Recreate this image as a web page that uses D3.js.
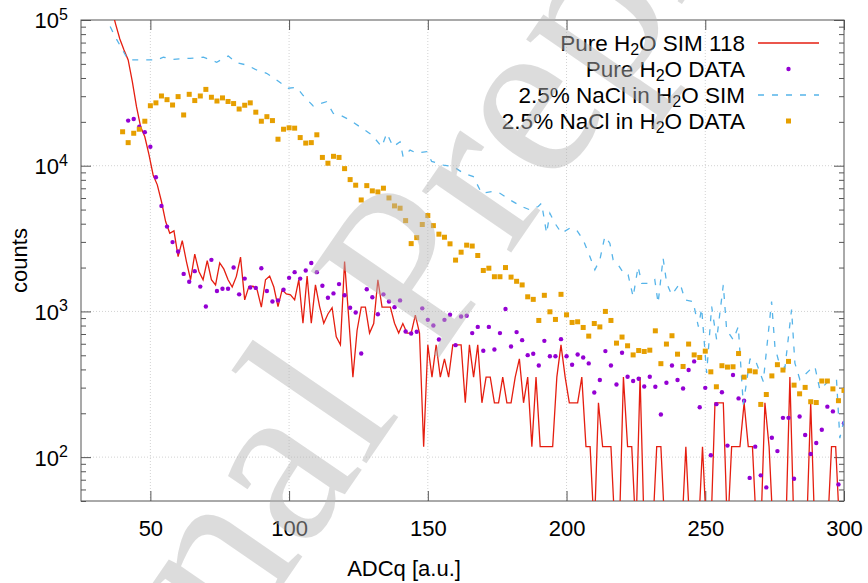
<!DOCTYPE html>
<head>
  <meta charset="utf-8">
  <style>
    body { margin: 0; background: #fff; }
    svg { display: block; }
  </style>
  <script src="https://cdn.jsdelivr.net/npm/d3@7"></script>
</head>
<body>
<div id="chart"></div>
<script>
// values

// Pure H2O DATA: one point every 2 ADCq, first bin at 42
const pureDataStart = 42, dataStep = 2
const pureData = [
  20400, 20900, 18500, 17000, 13500, 8340, 5300, 3820, 2990, 2580,
  1810, 1600, 1890, 1480, 1080, 2260, 1380, 1430, 1430, 2000,
  1310, 1680, 1460, 1450, 1980, 1380, 1170, 1190, 1410, 1700,
  1860, 1680, 1910, 2150, 1860, 1500, 1240, 1330, 1540, 1290,
  1060, 984, 514, 1420, 1250, 957, 1310, 1170, 1070, 1190,
  728, 705, 725, 1050, 875, 800, 641, 875, 948, 587,
  923, 933, 710, 783, 537, 783, 548, 710, 1040, 574,
  721, 635, 501, 512, 425, 628, 493, 493, 645, 493,
  431, 506, 483, 440, 278, 338, 534, 425, 315, 520,
  356, 333, 345, 305, 356, 304, 196, 324, 425, 338,
  296, 396, 454, 220, 299, 103, 231, 279, 120, 366,
  253, 244, 72, 118, 75, 62, 136, 110, 186, 186,
  71, 190, 142, 105, 125, 154, 222, 206, 65, 171
]

// 2.5% NaCl in H2O DATA: every 2 ADCq, first bin at 40
const naclDataStart = 40
const naclData = [
  17100, 14400, 16700, 17800, 20200, 25800, 27000, 30100, 28400, 26100,
  29800, 22300, 30900, 28000, 30100, 33400, 29500, 27800, 29200, 27600,
  26700, 24500, 26000, 27000, 23300, 20200, 21700, 20400, 15200, 17800,
  18200, 18100, 15600, 14300, 14400, 16300, 11400, 10400, 11600, 11400,
  9550, 8030, 7350, 5820, 7300, 6720, 6610, 7010, 6010, 5300,
  5110, 4200, 2920, 3210, 3950, 4550, 3880, 3390, 3230, 2910,
  2250, 2550, 2850, 2810, 2420, 1910, 1980, 1730, 1730, 2000,
  1720, 1610, 1520, 1260, 1210, 867, 1290, 994, 881, 1310,
  948, 840, 849, 776, 677, 826, 783, 1000, 867, 606,
  667, 581, 503, 539, 531, 542, 736, 438, 597, 681,
  509, 419, 597, 503, 483, 534, 385, 304, 424, 415,
  417, 514, 354, 391, 385, 230, 269, 361, 431, 396,
  454, 312, 272, 301, 240, 237, 333, 333, 294, 244,
  287
]

// Pure H2O SIM 118: one vertex every 1.5 ADCq from 36, 0 = empty bin
const pureSimStart = 36, simStep = 1.5
const pureSim = [
  120000, 93400, 74100, 62300, 53200, 37800, 25400, 18500, 15800, 11900, 8640, 7390,
  5680, 4140, 3440, 3570, 2380, 3060, 2200, 1650, 2470, 1880, 1650, 2230, 1650, 1520,
  2150, 1950, 1650, 1470, 1740, 2360, 1200, 1480, 1490, 1400, 1070, 1650, 1750, 1470,
  1080, 1410, 1320, 1300, 1200, 1650,
  830, 1750, 830, 1520, 1080, 830, 960, 1060, 670, 590, 2200, 900, 354, 740, 1070,
  1070, 710, 826, 1650, 1070, 1070, 1070, 830, 710, 826, 710, 710, 944, 710, 118,
  590, 354, 590, 354, 472, 354, 590, 590, 590, 236, 590, 354, 590, 236, 354, 354,
  236, 236, 354, 236, 236, 354, 472, 236, 354, 118, 354, 118, 118, 118, 118, 354,
  590, 354, 236, 236, 236, 354, 118, 118, 0, 236,
  118, 118, 118, 0, 0, 354, 118, 118, 0, 354, 0, 0, 0, 118, 118, 0, 0, 0, 0, 0,
  118, 0, 0, 0, 118, 0, 0, 236, 236, 236, 0, 118, 118, 118, 236, 118, 118, 0, 0, 236,
  118, 0, 0, 0, 0, 354, 0, 0, 0, 0, 236, 0, 0, 0, 0, 118, 118, 0, 0
]

// 2.5% NaCl in H2O SIM: vertices as read
const naclSimX = [
  33.3, 37.3, 42.0, 46.3, 52.4, 54.7, 58.3, 64.3, 69.1, 73.9, 78.1, 81.1, 84.7, 88.3,
  91.9, 95.5, 99.7, 102.7, 105.1, 108.7, 113.5, 115.9, 118.3, 121.9, 125.5, 129.8,
  133.4, 135.2, 137.5, 140.0, 141.1, 143.6, 146.0, 149.6, 151.4, 155.6, 159.2, 162.8,
  166.4, 169.4, 173.0, 176.0, 179.6, 183.8, 186.8, 189.8, 191.0, 192.8, 194.0, 195.8,
  198.2, 201.2, 203.6, 206.0, 208.4, 210.2, 212.0, 213.8, 215.6, 216.8, 218.6, 221.0,
  222.2, 224.0, 225.8, 227.1, 230.1, 231.8, 233.0, 234.8, 236.1, 237.9, 240.9, 242.7,
  245.6, 247.5, 248.7, 250.5, 252.3, 254.1, 256.5, 257.7, 260.1, 261.9, 263.7, 266.1,
  267.9, 270.9, 273.9, 275.1, 276.3, 278.7, 281.1, 282.3, 284.1, 287.7, 289.5, 291.3,
  294.3, 297.3, 298.5, 300
]
const naclSimY = [
  110000, 76800, 53200, 53200, 53200, 55500, 53700, 54600, 55500, 51300, 56600, 50900, 49100, 45400,
  43100, 38800, 34000, 34500, 30300, 25700, 27500, 22900, 22300, 20600, 18500, 16300,
  13500, 16700, 13500, 14600, 11500, 12800, 12200, 12500, 10700, 10100, 9860, 8890,
  8420, 6470, 6640, 6470, 5830, 5250, 4980, 5250, 5530, 3440, 4720, 4030,
  3440, 3730, 3630, 3100, 2380, 1930, 2260, 3270, 2940, 2260, 2090, 1780,
  1780, 1260, 2030, 1560, 1560, 1650, 1140, 2320, 1560, 1300, 1560, 1200,
  1170, 787, 1050, 378, 1080, 638, 1520, 748, 638, 787, 230, 471,
  471, 330, 1170, 574, 466, 408, 1030, 442, 340, 397, 419, 290,
  330, 340, 135, 180
]

const xTicks = [50, 100, 150, 200, 250, 300]
const yMajor = [1e2, 1e3, 1e4, 1e5]

const colors = { pureSim: '#e51e10', pureData: '#9400d3', naclSim: '#56b4e9', naclData: '#e69f00' }

// legend rows: text parts, [string, subscript?]
const legendRows = [
  { key: 'pureSim', kind: 'line', parts: [['Pure H'], ['2', 1], ['O SIM 118']] },
  { key: 'pureData', kind: 'dot', parts: [['Pure H'], ['2', 1], ['O DATA']] },
  { key: 'naclSim', kind: 'dash', parts: [['2.5% NaCl in H'], ['2', 1], ['O SIM']] },
  { key: 'naclData', kind: 'square', parts: [['2.5% NaCl in H'], ['2', 1], ['O DATA']] },
]

// ---- drawing ----
const font = "'Liberation Sans', Arial, sans-serif"
const fs = 22
const W = 868, H = 583
const margin = { top: 20, right: 24, bottom: 82, left: 81 }
const x = d3.scaleLinear([25, 300], [margin.left, W - margin.right])
const y = d3.scaleLog([50, 1e5], [H - margin.bottom, margin.top])
const [xl, xr] = x.range()
const [yb, yt] = y.range()

const svg = d3.select('#chart').append('svg')
  .attr('width', W).attr('height', H)
  .attr('viewBox', [0, 0, W, H])
  .style('font-family', font)

svg.append('clipPath').attr('id', 'plot-clip')
  .append('rect').attr('x', xl).attr('y', yt).attr('width', xr - xl).attr('height', yb - yt)

// grid
const grid = svg.append('g')
  .attr('stroke', '#d2d2d2').attr('stroke-width', 1).attr('stroke-dasharray', '1,2')
grid.selectAll('.gx').data(xTicks.slice(0, -1)).join('line')
  .attr('x1', d => x(d)).attr('x2', d => x(d)).attr('y1', yb).attr('y2', yt)
grid.selectAll('.gy').data(yMajor.slice(0, -1)).join('line')
  .attr('x1', xl).attr('x2', xr).attr('y1', d => y(d)).attr('y2', d => y(d))

// axes, ticks pointing inward and mirrored
const yMinor = y.ticks().filter(t => !yMajor.includes(t))
const tickStyle = g => g
  .attr('font-family', null).attr('font-size', fs)
  .call(g => g.select('.domain').remove())
  .call(g => g.selectAll('.tick line').attr('stroke', '#555'))
  .call(g => g.selectAll('.tick text').attr('fill', '#000'))

svg.append('g').attr('transform', `translate(0,${yb})`)
  .call(d3.axisBottom(x).tickValues(xTicks).tickSize(-10).tickPadding(19))
  .call(tickStyle)
svg.append('g').attr('transform', `translate(0,${yt})`)
  .call(d3.axisTop(x).tickValues(xTicks).tickSize(-10).tickFormat(''))
  .call(tickStyle)

svg.append('g').attr('transform', `translate(${xl},0)`)
  .call(d3.axisLeft(y).tickValues(yMinor).tickSize(-5).tickFormat(''))
  .call(tickStyle)
svg.append('g').attr('transform', `translate(${xr},0)`)
  .call(d3.axisRight(y).tickValues(yMinor).tickSize(-5).tickFormat(''))
  .call(tickStyle)
svg.append('g').attr('transform', `translate(${xr},0)`)
  .call(d3.axisRight(y).tickValues(yMajor).tickSize(-10).tickFormat(''))
  .call(tickStyle)
svg.append('g').attr('transform', `translate(${xl},0)`)
  .call(d3.axisLeft(y).tickValues(yMajor).tickSize(-10).tickPadding(13))
  .call(tickStyle)
  .call(g => g.selectAll('.tick text').attr('dy', '0.36em').text('10')
    .append('tspan').attr('font-size', 16).attr('dy', -8.5).text(d => Math.round(Math.log10(d))))

// border
svg.append('rect')
  .attr('x', xl).attr('y', yt).attr('width', xr - xl).attr('height', yb - yt)
  .attr('fill', 'none').attr('stroke', '#555').attr('stroke-width', 1)

// axis titles
svg.append('text')
  .attr('x', 404).attr('y', 576).attr('text-anchor', 'middle')
  .attr('font-size', fs).text('ADCq [a.u.]')
svg.append('text')
  .attr('transform', `translate(27,${(yt + yb) / 2}) rotate(-90)`)
  .attr('text-anchor', 'middle')
  .attr('font-size', fs).text('counts')

// series
const plot = svg.append('g').attr('clip-path', 'url(#plot-clip)')
const floor = 30 // empty bins drop below the frame

plot.append('path')
  .datum(pureSim)
  .attr('fill', 'none').attr('stroke', colors.pureSim).attr('stroke-width', 1.3)
  .attr('d', d3.line()
    .x((d, i) => x(pureSimStart + i * simStep))
    .y(d => y(Math.max(d, floor))))

plot.append('g').attr('fill', colors.pureData)
  .selectAll('circle').data(pureData).join('circle')
  .attr('cx', (d, i) => x(pureDataStart + i * dataStep))
  .attr('cy', d => y(d))
  .attr('r', 2.2)

plot.append('path')
  .datum(naclSimY)
  .attr('fill', 'none').attr('stroke', colors.naclSim).attr('stroke-width', 1.3)
  .attr('stroke-dasharray', '6,8')
  .attr('d', d3.line()
    .x((d, i) => x(naclSimX[i]))
    .y(d => y(d)))

const sq = 5
plot.append('g').attr('fill', colors.naclData)
  .selectAll('rect').data(naclData).join('rect')
  .attr('x', (d, i) => x(naclDataStart + i * dataStep) - sq / 2)
  .attr('y', d => y(d) - sq / 2)
  .attr('width', sq).attr('height', sq)

// legend
const legend = svg.append('g').attr('font-size', 22.5)
const rowY = d3.scalePoint(legendRows.map(r => r.key), [43, 121])
const sampleX = [758, 819]
legendRows.forEach(r => {
  const cy = rowY(r.key)
  const t = legend.append('text')
    .attr('x', 745).attr('y', cy + 7.5).attr('text-anchor', 'end').attr('fill', '#000')
  r.parts.forEach(([s, sub]) => {
    t.append('tspan')
      .attr('font-size', sub ? 16 : null)
      .attr('dy', sub ? 4 : (t.selectAll('tspan').size() > 1 ? -4 : 0))
      .text(s)
  })
  const c = colors[r.key]
  if (r.kind === 'line' || r.kind === 'dash') {
    legend.append('line')
      .attr('x1', sampleX[0]).attr('x2', sampleX[1]).attr('y1', cy).attr('y2', cy)
      .attr('stroke', c).attr('stroke-width', 1.3)
      .attr('stroke-dasharray', r.kind === 'dash' ? '6,8' : null)
  } else if (r.kind === 'dot') {
    legend.append('circle').attr('cx', d3.mean(sampleX)).attr('cy', cy).attr('r', 2.2).attr('fill', c)
  } else {
    legend.append('rect').attr('x', d3.mean(sampleX) - sq / 2).attr('y', cy - sq / 2)
      .attr('width', sq).attr('height', sq).attr('fill', c)
  }
})

// watermark stamped over the figure
svg.append('text')
  .attr('transform', 'translate(126,813) rotate(-55.5)')
  .attr('font-family', "'Liberation Serif', 'DejaVu Serif', serif")
  .attr('font-size', 236)
  .attr('fill', '#b4b4b4').attr('fill-opacity', 0.47)
  .text('Final Preprint')
</script>
</body>
